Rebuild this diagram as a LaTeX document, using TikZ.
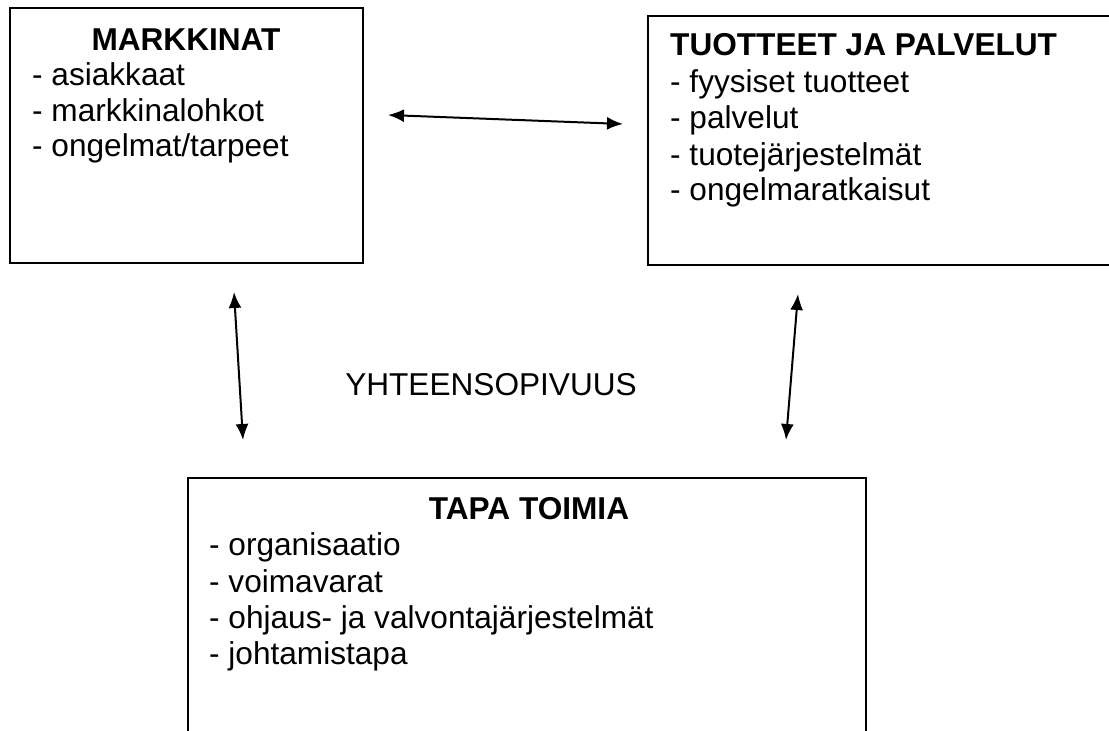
\documentclass[tikz,border=0pt]{standalone}
\usepackage{fontspec}
\setmainfont{Liberation Sans}
\usetikzlibrary{arrows.meta}
\begin{document}
\begin{tikzpicture}[x=1pt,y=-1pt,
  box/.style={draw, line width=2pt, inner sep=0pt, outer sep=0pt, anchor=north west},
  txt/.style={inner sep=0pt, anchor=base west, font=\fontsize{31.6}{36}\selectfont},
  ttl/.style={inner sep=0pt, anchor=base, font=\fontsize{31.6}{36}\selectfont\bfseries},
  link/.style={line width=2pt, {Latex[length=16pt,width=13pt]}-{Latex[length=16pt,width=13pt]}}]
\useasboundingbox (0,0) rectangle (1109,731);
\clip (0,0) rectangle (1109,731);
% boxes
\node[box, minimum width=353.5pt, minimum height=255.5pt] (markbox) at (9.5,7.5) {};
\node[box, minimum width=500pt, minimum height=249.5pt] (tuotbox) at (648,15.5) {};
\node[box, minimum width=678pt, minimum height=300pt] (tapabox) at (188,477.5) {};
% box 1
\node[ttl] (markt) at (186,50) {MARKKINAT};
\node[txt] (mark1) at (32,85) {- asiakkaat};
\node[txt] (mark2) at (32,121) {- markkinalohkot};
\node[txt] (mark3) at (32,156) {- ongelmat/tarpeet};
% box 2
\node[txt, font=\fontsize{31.6}{36}\selectfont\bfseries] (tuott) at (670,55) {TUOTTEET JA PALVELUT};
\node[txt] (tuot1) at (670,92) {- fyysiset tuotteet};
\node[txt] (tuot2) at (670,128) {- palvelut};
\node[txt] (tuot3) at (670,165) {- tuotejärjestelmät};
\node[txt] (tuot4) at (670,200) {- ongelmaratkaisut};
% box 3
\node[ttl] (tapat) at (529,519) {TAPA TOIMIA};
\node[txt] (tapa1) at (209,555) {- organisaatio};
\node[txt] (tapa2) at (209,592) {- voimavarat};
\node[txt] (tapa3) at (209,628) {- ohjaus- ja valvontajärjestelmät};
\node[txt] (tapa4) at (209,664) {- johtamistapa};
% middle label
\node[inner sep=0pt, anchor=base, font=\fontsize{31.6}{36}\selectfont] (yht) at (491,395) {YHTEENSOPIVUUS};
% arrows
\coordinate (h1) at (388,115);
\coordinate (h2) at (623,124);
\coordinate (l1) at (234,292);
\coordinate (l2) at (243,440);
\coordinate (r1) at (798,294);
\coordinate (r2) at (786,440);
\draw[link] (h1) -- (h2);
\draw[link] (l1) -- (l2);
\draw[link] (r1) -- (r2);
\end{tikzpicture}
\end{document}
